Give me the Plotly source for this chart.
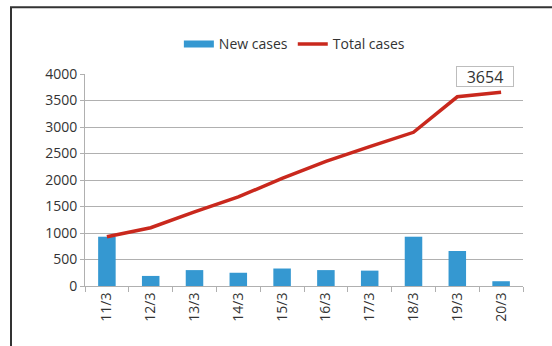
import plotly.graph_objects as go

dates = ["11/3", "12/3", "13/3", "14/3", "15/3", "16/3", "17/3", "18/3", "19/3", "20/3"]
new_cases = [930, 190, 300, 250, 330, 300, 290, 930, 660, 90]
total_cases = [930, 1100, 1400, 1680, 2030, 2350, 2630, 2900, 3570, 3654]
y_ticks = [0, 500, 1000, 1500, 2000, 2500, 3000, 3500, 4000]

BLUE = "#3598d1"
RED = "#c9281d"
FONT = "Open Sans"

fig = go.Figure()
fig.add_trace(go.Bar(x=dates, y=new_cases, marker=dict(color=BLUE, line=dict(width=0)),
                     showlegend=False, name="New cases"))
# legend proxy for bars (wide flat swatch like the reference)
fig.add_trace(go.Scatter(x=[None], y=[None], mode="lines", name="New cases",
                         line=dict(color=BLUE, width=7)))
fig.add_trace(go.Scatter(x=dates, y=total_cases, mode="lines", name="Total cases",
                         line=dict(color=RED, width=3.5)))

fig.add_annotation(x=dates[-1], y=total_cases[-1], xref="x", yref="y",
                   text=str(total_cases[-1]), showarrow=False,
                   xshift=-16, yshift=16, width=56, height=19,
                   font=dict(family=FONT, size=16, color="#333"),
                   bgcolor="white", bordercolor="#bdbdbd", borderwidth=1, borderpad=0)

fig.add_shape(type="rect", xref="paper", yref="paper",
              x0=(11 - 85) / 438, x1=1.3, y0=-0.5, y1=(286.7 - 8) / 212,
              line=dict(color="#333", width=2), fillcolor="rgba(0,0,0,0)", layer="below")

fig.update_layout(
    width=552, height=346,
    margin=dict(l=85, r=29, t=74, b=60),
    paper_bgcolor="white", plot_bgcolor="white",
    font=dict(family=FONT, size=14, color="#333"),
    bargap=0.6,
    legend=dict(orientation="h", x=0.478, xanchor="center", y=1.14, yanchor="middle",
                font=dict(family=FONT, size=14, color="#333"), itemwidth=30,
                tracegroupgap=0, bgcolor="rgba(0,0,0,0)"),
    xaxis=dict(type="category", tickangle=-90, showgrid=False, showline=True,
               linecolor="#b0b0b0", linewidth=1, ticks="outside", tickson="boundaries",
               ticklen=5, tickcolor="#b0b0b0", tickfont=dict(size=14, color="#333")),
    yaxis=dict(range=[0, 4000], tickvals=y_ticks, showgrid=True, gridcolor="#b0b0b0",
               gridwidth=1, showline=True, linecolor="#b0b0b0", linewidth=1,
               ticks="outside", ticklen=4, tickcolor="#b0b0b0", zeroline=False,
               tickfont=dict(size=14, color="#333")),
)

fig.write_html("out.html")
